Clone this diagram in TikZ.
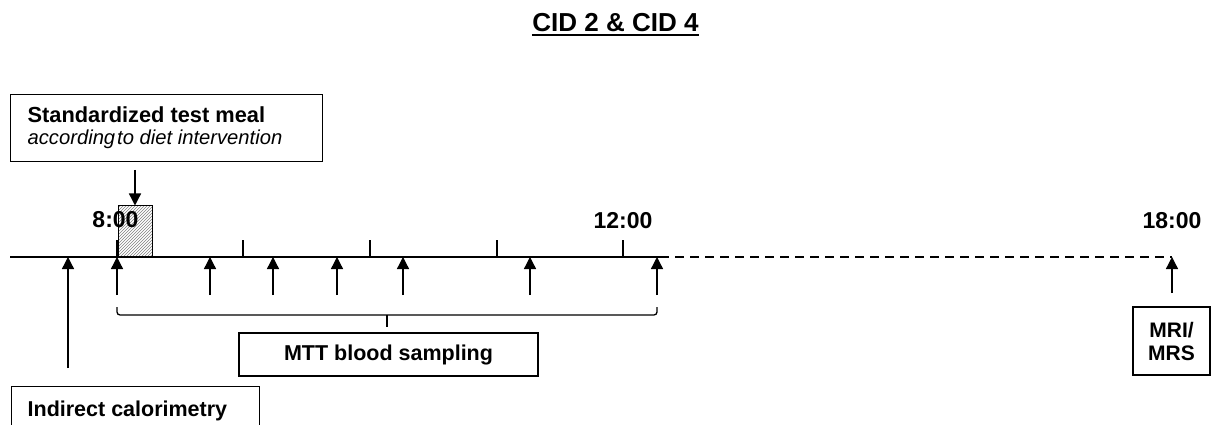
\documentclass[tikz,border=0pt]{standalone}
\usepackage{fontspec}
\setmainfont{Liberation Sans}
\usetikzlibrary{arrows.meta,patterns,calc}
\begin{document}
\begin{tikzpicture}[x=1pt,y=-1pt,
  line width=1.3pt,
  box/.style={draw=black,line width=1.3pt,rectangle},
  tip/.style={-{Triangle[length=12pt,width=12pt]},line width=1.3pt},
  timefont/.style={font=\fontsize{23}{26}\selectfont\bfseries},
  bodyfont/.style={font=\fontsize{21.5}{23}\selectfont\bfseries}
]
\useasboundingbox (0,0) rectangle (1211,425);
\clip (0,0) rectangle (1211,425);

% title
\node[inner sep=0pt, anchor=base, font=\fontsize{26}{30}\selectfont\bfseries] (title) at (615.5,32) {CID 2 \& CID 4};
\draw[line width=2pt] ($(title.base west)+(0,3.5)$) -- ($(title.base east)+(0,3.5)$);

% test meal box
\node[box, anchor=north west, minimum width=312pt, minimum height=67pt, inner sep=0pt] (meal) at (10,94) {};
\node[anchor=base west, inner sep=0pt, font=\fontsize{21.8}{24}\selectfont\bfseries] (mealtxt) at (27,123) {Standardized test meal};
\node[anchor=base west, inner sep=0pt, font=\fontsize{20.2}{24}\selectfont\itshape] (mealsub) at (27,145) {according\hspace{0.1em}to diet intervention};

% hatched meal block
\node[draw, line width=1pt, minimum width=34pt, minimum height=51pt, inner sep=0pt, pattern=north east lines, pattern color=gray] (block) at (135,231.5) {};
\coordinate (mealarr) at (135,170);
\draw[tip] (mealarr) -- (block.north);

% timeline
\coordinate (L0) at (10,257);
\coordinate (L1) at (660,257);
\coordinate (L2) at (1172,257);
\draw (L0) -- (L1);
\draw[dash pattern=on 9pt off 6pt] (L1) -- (L2);
\foreach \x in {117,243,370,497,623} \draw (\x,240) -- (\x,257);

% time labels
\node[timefont, anchor=base, inner sep=0pt] (t8) at (115.5,228) {8:00};
\node[timefont, anchor=base, inner sep=0pt] (t12) at (623,229) {12:00};
\node[timefont, anchor=base, inner sep=0pt] (t18) at (1172,229) {18:00};

% blood sampling arrows
\foreach \x/\n in {117/1,210/2,273/3,337/4,403/5,530/6,657/7} {
  \coordinate (s\n) at (\x,295);
  \coordinate (e\n) at (\x,257);
  \draw[tip] (s\n) -- (e\n);
}

% indirect calorimetry arrow
\coordinate (ic0) at (68,368);
\coordinate (ic1) at (68,257);
\draw[tip] (ic0) -- (ic1);

% 18:00 arrow
\coordinate (mr0) at (1172,293);
\draw[tip] (mr0) -- (L2);

% bracket
\coordinate (bl) at (117,307);
\coordinate (br) at (657,307);
\coordinate (bm) at (387,315);
\coordinate (bt) at (387,327);
\draw[rounded corners=3pt] (bl) |- (br |- bm) -- (br);
\draw (bm) -- (bt);

% MTT box
\node[box, bodyfont, minimum width=299pt, minimum height=43pt, inner sep=0pt] (mtt) at (388.5,354.5) {MTT blood sampling};

% Indirect calorimetry box
\node[box, anchor=north west, minimum width=248pt, minimum height=60pt, inner sep=0pt] (ic) at (11,386) {};
\node[bodyfont, anchor=base west, inner sep=0pt] (ictxt) at (27,416) {Indirect calorimetry};

% MRI box
\node[box, font=\fontsize{21}{23}\selectfont\bfseries, minimum width=77pt, minimum height=68pt, align=center, inner sep=0pt] (mri) at (1171.5,341) {MRI/\\MRS};
\end{tikzpicture}
\end{document}
